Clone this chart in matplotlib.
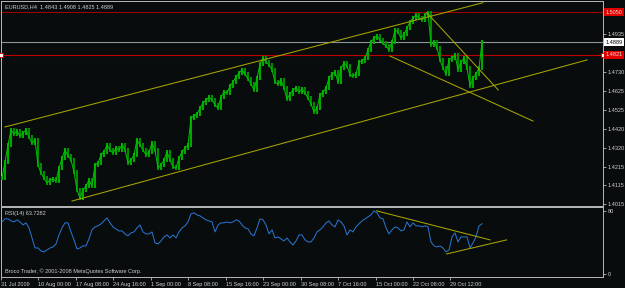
import numpy as np
import matplotlib
matplotlib.use("Agg")
import matplotlib.pyplot as plt
from matplotlib.transforms import blended_transform_factory

# ---------------- data ----------------
# EURUSD H4 closes, sampled along the chart (one value per sample step)
closes = [
    1.4155, 1.4242, 1.4334, 1.4415, 1.4393, 1.4409, 1.4382, 1.4398, 1.4415, 1.4377,
    1.4344, 1.4361, 1.4226, 1.4182, 1.4155, 1.4128, 1.4145, 1.4150, 1.4139, 1.4209,
    1.4263, 1.4307, 1.4274, 1.4253, 1.4188, 1.4091, 1.4047, 1.4091, 1.4112, 1.4145,
    1.4112, 1.4226, 1.4236, 1.4280, 1.4296, 1.4334, 1.4307, 1.4290, 1.4317, 1.4307,
    1.4334, 1.4307, 1.4236, 1.4253, 1.4280, 1.4361, 1.4334, 1.4307, 1.4280, 1.4296,
    1.4344, 1.4307, 1.4209, 1.4226, 1.4253, 1.4296, 1.4253, 1.4215, 1.4209, 1.4263,
    1.4296, 1.4317, 1.4334, 1.4479, 1.4490, 1.4501, 1.4533, 1.4560, 1.4577, 1.4593,
    1.4577, 1.4550, 1.4533, 1.4593, 1.4620, 1.4614, 1.4652, 1.4674, 1.4701, 1.4722,
    1.4739, 1.4717, 1.4690, 1.4663, 1.4631, 1.4695, 1.4771, 1.4803, 1.4782, 1.4766,
    1.4739, 1.4674, 1.4663, 1.4685, 1.4641, 1.4582, 1.4609, 1.4631, 1.4641, 1.4620,
    1.4636, 1.4614, 1.4587, 1.4555, 1.4512, 1.4533, 1.4604, 1.4620, 1.4641, 1.4695,
    1.4717, 1.4728, 1.4674, 1.4749, 1.4776, 1.4760, 1.4712, 1.4706, 1.4717, 1.4782,
    1.4787, 1.4803, 1.4847, 1.4890, 1.4911, 1.4922, 1.4901, 1.4884, 1.4868, 1.4847,
    1.4890, 1.4955, 1.4944, 1.4911, 1.4933, 1.4965, 1.4998, 1.5019, 1.5036, 1.5019,
    1.5009, 1.5036, 1.5046, 1.4874, 1.4890, 1.4857, 1.4793, 1.4749, 1.4717, 1.4793,
    1.4803, 1.4820, 1.4739, 1.4782, 1.4803, 1.4749, 1.4652, 1.4695, 1.4717, 1.4749,
    1.4889,
]

rsi = [
    66.0, 69.9, 69.9, 67.3, 66.0, 68.6, 66.0, 62.2, 64.8, 58.4,
    45.7, 33.0, 33.0, 29.2, 27.9, 30.5, 33.0, 34.3, 38.1, 49.5,
    58.4, 64.8, 64.8, 53.3, 43.2, 31.8, 33.0, 35.6, 35.6, 44.5,
    55.9, 59.7, 61.0, 63.5, 67.3, 71.1, 64.8, 59.7, 57.2, 54.6,
    54.6, 50.8, 48.3, 52.1, 53.3, 58.4, 62.2, 53.3, 50.8, 50.8,
    53.3, 39.4, 38.1, 41.9, 47.0, 49.5, 45.7, 49.5, 45.7, 53.3,
    58.4, 61.0, 66.0, 76.2, 77.5, 74.9, 73.7, 71.1, 68.6, 67.3,
    66.0, 53.3, 62.2, 64.8, 64.8, 66.0, 64.8, 66.0, 68.6, 67.3,
    62.2, 58.4, 57.2, 50.8, 48.3, 58.4, 69.9, 68.6, 62.2, 50.8,
    55.9, 45.7, 47.0, 44.5, 41.9, 45.7, 40.6, 36.8, 41.9, 49.5,
    49.5, 43.2, 40.6, 40.6, 45.7, 53.3, 55.9, 59.7, 64.8, 67.3,
    62.2, 59.7, 68.6, 66.0, 61.0, 49.5, 55.9, 53.3, 59.7, 63.5,
    67.3, 69.9, 72.4, 74.9, 80.0, 77.5, 71.1, 69.9, 58.4, 50.8,
    55.9, 59.7, 58.4, 54.6, 55.9, 66.0, 59.7, 64.8, 61.0, 61.0,
    59.7, 61.0, 59.7, 40.6, 35.6, 34.3, 35.6, 33.0, 27.9, 30.5,
    47.0, 52.1, 40.6, 47.0, 47.0, 47.0, 33.0, 39.4, 47.0, 61.0,
    63.73,
]

date_labels = ["31 Jul 2009", "10 Aug 00:00", "17 Aug 08:00", "24 Aug 16:00",
               "1 Sep 00:00", "8 Sep 08:00", "15 Sep 16:00", "23 Sep 00:00",
               "30 Sep 08:00", "7 Oct 16:00", "15 Oct 00:00", "22 Oct 08:00",
               "29 Oct 12:00"]
date_tick_pos = [-0.33, 12.0, 24.67, 37.0, 49.67, 62.0, 74.67, 87.0,
                 99.67, 112.0, 124.67, 137.0, 149.33]

price_ticks = [1.4015, 1.4115, 1.4215, 1.4320, 1.4420, 1.4525, 1.4625,
               1.4730, 1.4935]
rsi_ticks = [0, 80]

# hand-drawn trend lines: (sample positions, prices)
upper_channel_t = [1.0, 160.3]
upper_channel_p = [1.4431, 1.5102]
lower_channel_t = [23.33, 195.0]
lower_channel_p = [1.4031, 1.4793]
down_line1_t = [141.6, 165.4]
down_line1_p = [1.5048, 1.4631]
down_line2_t = [129.33, 177.0]
down_line2_p = [1.4814, 1.4463]

rsi_upper_t = [124.9, 162.7]
rsi_upper_v = [80.0, 43.2]
rsi_lower_t = [148.2, 168.2]
rsi_lower_v = [25.4, 43.2]

bid_price = 1.4889
red_level = 1.4821
top_level = 1.5050
header = "EURUSD,H4  1.4843 1.4908 1.4825 1.4889"
rsi_title = "RSI(14) 63.7282"
footer = "Broco Trader, \u00a9 2001-2008 MetaQuotes Software Corp."

# ---------------- style ----------------
BG = "#080c0c"
FRAME = "#b8b8b8"
TXT = "#d0d0d0"
YEL = "#a8a400"
FONT = ["Liberation Sans", "DejaVu Sans"]
FS = 4.0

W, H = 625, 288
fig = plt.figure(figsize=(W / 100, H / 100), dpi=100, facecolor=BG)
ax = fig.add_axes([1 / W, (H - 206) / H, 602 / W, 205 / H])
axr = fig.add_axes([1 / W, (H - 277) / H, 602 / W, 70 / H], sharex=ax)

for a in (ax, axr):
    a.set_facecolor(BG)
    for s in a.spines.values():
        s.set_color(FRAME)
        s.set_linewidth(0.7)

n = len(closes)
x = np.arange(n)
c = np.array(closes)
o = np.concatenate([[c[0]], c[:-1]])
pad = 0.0010
lo = np.minimum(o, c) - pad
hi = np.maximum(o, c) + pad
up = c >= o
ax.vlines(x[up], lo[up], hi[up], color="#00a800", lw=1.5, zorder=3)
ax.vlines(x[~up], lo[~up], hi[~up], color="#008a00", lw=1.5, zorder=3)
ax.plot(x, c, color="#00c400", lw=0.7, zorder=4)

# trend lines
for t, p in ((upper_channel_t, upper_channel_p), (lower_channel_t, lower_channel_p),
             (down_line1_t, down_line1_p), (down_line2_t, down_line2_p)):
    ax.plot(t, p, color=YEL, lw=0.75, zorder=5)

# horizontal levels
ax.axhline(top_level, color="#a00000", lw=0.8, zorder=2)
ax.axhline(bid_price, color="#8a969a", lw=0.8, zorder=2)
ax.axhline(red_level, color="#c00000", lw=0.8, zorder=2)
trm = blended_transform_factory(ax.transAxes, ax.transData)
for xa in (0.0, 1.0):
    ax.plot([xa], [red_level], marker="s", ms=2.2, mfc="white", mec="#e00000",
            mew=0.7, transform=trm, zorder=6, clip_on=False)

ax.set_xlim(-0.333, 200.33)
ax.set_ylim(1.40042, 1.51112)
ax.yaxis.tick_right()
ax.set_yticks(price_ticks)
ax.set_yticklabels([f"{v:.4f}" for v in price_ticks])
ax.tick_params(axis="y", colors=FRAME, length=2, width=0.6, pad=1.5,
               labelsize=FS, labelcolor=TXT)
for lab in ax.get_yticklabels():
    lab.set_family(FONT)
ax.tick_params(axis="x", bottom=False, labelbottom=False)

for val, fc, tc in ((top_level, "#e00000", "#e0e0e0"), (bid_price, "white", "black"),
                    (red_level, "#e00000", "#e0e0e0")):
    ax.text(1.004, val, f"{val:.4f}", transform=trm, fontsize=FS, family=FONT,
            color=tc, va="center", ha="left", zorder=10, clip_on=False,
            bbox=dict(boxstyle="square,pad=0.25", fc=fc, ec="none"))

ax.text(4 / 602, 1 - 6 / 205, header, transform=ax.transAxes, fontsize=FS,
        family=FONT, color=TXT, va="center", ha="left")

# RSI panel
axr.plot(x, rsi, color="#2a78d8", lw=0.7, zorder=3)
axr.plot(rsi_upper_t, rsi_upper_v, color=YEL, lw=0.75, zorder=4)
axr.plot(rsi_lower_t, rsi_lower_v, color=YEL, lw=0.75, zorder=4)
axr.set_ylim(-3.8, 84.9)
axr.yaxis.tick_right()
axr.set_yticks(rsi_ticks)
axr.set_yticklabels([str(v) for v in rsi_ticks])
axr.tick_params(axis="y", colors=FRAME, length=2, width=0.6, pad=1.5,
                labelsize=FS, labelcolor=TXT)
axr.set_xticks(date_tick_pos)
axr.set_xticklabels(date_labels)
axr.tick_params(axis="x", colors=FRAME, length=2, width=0.6, pad=1.5,
                labelsize=FS, labelcolor=TXT)
for lab in axr.get_xticklabels():
    lab.set_family(FONT)
    lab.set_ha("left")
for lab in axr.get_yticklabels():
    lab.set_family(FONT)

axr.text(4 / 602, 1 - 6 / 70, rsi_title, transform=axr.transAxes, fontsize=FS,
         family=FONT, color=TXT, va="center", ha="left")
axr.text(4 / 602, 6 / 70, footer, transform=axr.transAxes, fontsize=FS,
         family=FONT, color=TXT, va="center", ha="left")

fig.savefig("out.png", dpi=100, facecolor=BG)
